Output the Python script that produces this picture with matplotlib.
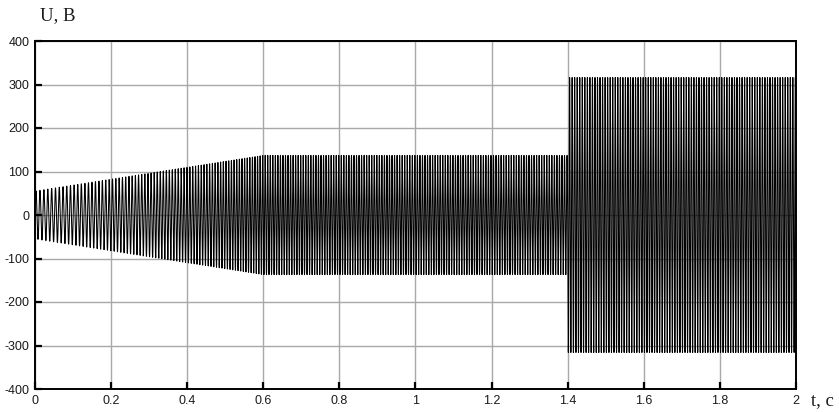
import numpy as np
import matplotlib
matplotlib.use("Agg")
import matplotlib.pyplot as plt

plt.rcParams["axes.unicode_minus"] = False

# Envelope (amplitude, V) keypoints
env_t = [0.0, 0.6, 1.4]
env_A = [55.0, 137.0, 137.0]
step_t = 1.4
step_A = 316.0
# Frequency (Hz) keypoints (estimated)
freq_t = [0.0, 0.6, 2.0]
freq_f = [95.0, 150.0, 150.0]

x_ticks = [0, 0.2, 0.4, 0.6, 0.8, 1.0, 1.2, 1.4, 1.6, 1.8, 2.0]
x_labels = ["0", "0.2", "0.4", "0.6", "0.8", "1", "1.2", "1.4", "1.6", "1.8", "2"]
y_ticks = [-400, -300, -200, -100, 0, 100, 200, 300, 400]

t = np.linspace(0, 2.0, 160001)
A = np.where(t < step_t, np.interp(t, env_t, env_A), step_A)
f = np.interp(t, freq_t, freq_f)
phase = 2 * np.pi * np.cumsum(f) * (t[1] - t[0])
u = A * np.sin(phase)

fig = plt.figure(figsize=(8.39, 4.12), dpi=100)
ax = fig.add_axes([35/839, 1-389/412, (796-35)/839, (389-41)/412])
ax.plot(t, u, color="black", lw=0.75)
ax.set_xlim(0, 2)
ax.set_ylim(-400, 400)
ax.set_xticks(x_ticks)
ax.set_xticklabels(x_labels)
ax.set_yticks(y_ticks)
ax.grid(True, color="#a8a8a8", lw=1.0)
ax.tick_params(direction="in", length=5, width=1.6, labelsize=9, pad=4,
               labelcolor="#1a1a1a")
for lab in ax.get_xticklabels() + ax.get_yticklabels():
    lab.set_family(["Liberation Sans", "DejaVu Sans"])
for s in ax.spines.values():
    s.set_linewidth(1.4)
fig.text(40/839, 1-16/412, "U, B", family="Liberation Serif", fontsize=13.5,
         ha="left", va="center", color="#1a1a1a")
fig.text(811/839, 1-401/412, "t, c", family="Liberation Serif", fontsize=13.5,
         ha="left", va="center", color="#1a1a1a")
fig.savefig("out.png", dpi=100)
